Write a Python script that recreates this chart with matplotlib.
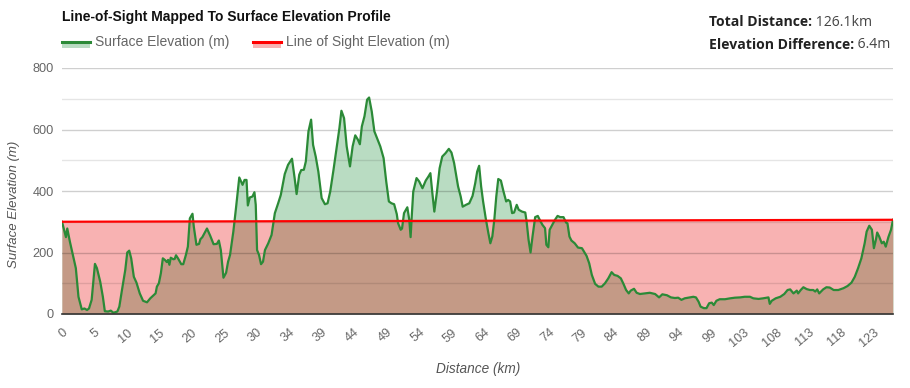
import numpy as np
import matplotlib
matplotlib.use("Agg")
import matplotlib.pyplot as plt
from matplotlib.patches import Rectangle
from matplotlib.lines import Line2D

# ---------------- data ----------------
distance_km = [0, 0.6, 0.8, 1.2, 1.7, 2.1, 2.5, 3.0, 3.4, 3.8, 4.1, 4.5, 5.0, 5.3, 5.8, 6.2, 6.5, 7.0, 7.4, 7.8,
               8.4, 8.7, 9.1, 9.6, 9.9, 10.2, 10.5, 10.9, 11.3, 11.8, 12.3, 12.9, 13.4, 13.9, 14.2, 14.4, 14.7,
               15.0, 15.3, 15.6, 15.9, 16.1, 16.3, 16.5, 16.9, 17.1, 17.3, 17.6, 18.1, 18.4, 18.8, 19.1, 19.4,
               19.8, 20.0, 20.4, 20.8, 21.0, 21.3, 22.0, 22.5, 23.0, 23.5, 23.8, 24.1, 24.5, 24.9, 25.2, 25.5,
               26.0, 26.4, 26.9, 27.4, 27.7, 28.0, 28.2, 28.5, 28.9, 29.2, 29.4, 29.6, 29.9, 30.2, 30.5, 30.8,
               31.3, 31.8, 32.3, 32.8, 33.2, 33.8, 34.3, 34.9, 35.3, 35.6, 36.0, 36.3, 36.7, 37.0, 37.4, 37.8,
               38.1, 38.5, 38.9, 39.4, 39.9, 40.3, 40.7, 41.2, 41.7, 42.1, 42.4, 42.8, 43.2, 43.7, 44.1, 44.5,
               44.9, 45.2, 45.5, 45.9, 46.3, 46.6, 47.0, 47.4, 47.8, 48.3, 48.8, 49.2, 49.6, 50.0, 50.4, 50.8,
               51.0, 51.4, 51.6, 51.9, 52.4, 52.7, 52.9, 53.1, 53.3, 53.8, 54.2, 54.7, 55.2, 55.6, 55.9, 56.2,
               56.5, 56.9, 57.3, 57.7, 58.2, 58.7, 59.1, 59.5, 59.8, 60.1, 60.5, 60.8, 61.3, 61.8, 62.3, 62.7,
               63.0, 63.3, 63.6, 63.9, 64.3, 64.7, 65.0, 65.3, 65.6, 65.9, 66.2, 66.6, 67.0, 67.4, 67.7, 68.0,
               68.3, 68.6, 69.0, 69.3, 69.8, 70.3, 70.5, 70.8, 71.1, 71.4, 71.8, 72.2, 72.5, 72.9, 73.3, 73.5,
               73.8, 74.0, 74.4, 74.8, 75.2, 75.6, 76.1, 76.5, 76.7, 77.0, 77.3, 77.8, 78.3, 78.9, 79.2, 79.6,
               80.0, 80.4, 80.9, 81.4, 81.9, 82.4, 82.9, 83.4, 83.8, 84.3, 84.8, 85.2, 85.6, 86.0, 86.3, 86.8,
               87.2, 87.7, 88.5, 89.2, 90.0, 90.6, 91.1, 91.8, 92.4, 93.0, 93.5, 94.0, 94.5, 95.3, 95.8, 96.2,
               96.6, 96.9, 97.4, 97.8, 98.2, 98.6, 98.9, 99.3, 99.8, 100.6, 101.4, 102.1, 102.9, 103.6, 104.4,
               104.9, 105.7, 106.4, 107.2, 107.4, 107.7, 108.3, 109.0, 109.6, 110.1, 110.5, 111.0, 111.5, 111.7,
               112.1, 112.5, 113.0, 113.5, 114.0, 114.3, 114.6, 114.9, 115.5, 116.0, 116.5, 117.1, 117.8, 118.6,
               119.2, 119.8, 120.3, 120.8, 121.3, 121.8, 122.1, 122.5, 122.9, 123.2, 123.5, 123.7, 124.0, 124.4,
               124.7, 125.0, 125.4, 125.8, 126.1]
surface_m = [300, 250, 278, 235, 187, 149, 56, 15, 18, 13, 18, 46, 163, 149, 105, 56, 9, 8, 11, 4,
             8, 24, 78, 143, 200, 206, 181, 121, 102, 67, 43, 38, 51, 61, 67, 89, 100,
             132, 181, 176, 169, 176, 160, 183, 178, 179, 191, 181, 162, 162, 192, 219, 311,
             326, 284, 225, 228, 243, 250, 278, 254, 227, 228, 239, 208, 118, 134, 170, 192,
             268, 344, 444, 420, 436, 436, 353, 379, 382, 396, 355, 208, 192, 162, 170, 208,
             230, 257, 328, 360, 387, 455, 485, 505, 442, 390, 453, 468, 469, 496, 594, 632,
             550, 512, 463, 377, 357, 360, 398, 469, 545, 605, 661, 637, 545, 480, 545, 581,
             567, 552, 610, 643, 697, 704, 659, 594, 572, 545, 507, 431, 366, 360, 357, 325,
             295, 274, 278, 328, 347, 306, 250, 328, 398, 442, 431, 409, 434, 447, 458, 393,
             333, 398, 474, 512, 523, 537, 525, 491, 453, 415, 382, 349, 355, 360, 384, 425,
             463, 482, 415, 366, 311, 263, 230, 252, 306, 382, 439, 434, 398, 366, 371, 366,
             328, 330, 355, 339, 333, 330, 301, 241, 200, 252, 315, 319, 306, 290, 279, 225,
             217, 274, 290, 306, 319, 315, 315, 297, 295, 252, 239, 230, 216, 214, 203, 189,
             165, 127, 98, 89, 89, 100, 116, 136, 127, 124, 116, 98, 78, 67, 76, 82,
             69, 65, 67, 69, 65, 54, 64, 61, 54, 52, 53, 46, 51, 54, 56, 54,
             40, 24, 19, 19, 35, 37, 29, 43, 48, 48, 51, 53, 54, 56, 56,
             51, 49, 51, 54, 33, 43, 51, 56, 65, 78, 80, 67, 76, 67,
             78, 87, 81, 78, 78, 73, 80, 67, 80, 87, 86, 78, 78, 84,
             91, 102, 121, 149, 181, 230, 268, 287, 274, 214, 241, 265, 252, 230,
             235, 219, 250, 274, 306.4]
los_distance_km = [0, 126.1]
los_m = [300.0, 306.4]

tick_labels = ["0", "5", "10", "15", "20", "25", "30", "34", "39", "44", "49", "54", "59", "64",
               "69", "74", "79", "84", "89", "94", "99", "103", "108", "113", "118", "123"]
label_step_km = 126.1 / 256 * 10  # labels shown every 10th sample of 257

y_ticks = [0, 200, 400, 600, 800]

# ---------------- figure ----------------
W, H = 910, 388
fig = plt.figure(figsize=(W / 100, H / 100), dpi=100)
L, R, T, B = 62, 893, 68, 314
ax = fig.add_axes([L / W, 1 - B / H, (R - L) / W, (B - T) / H])

d = np.array(distance_km)
e = np.array(surface_m)

PINK = "#f8b2b2"
GREEN_FILL = "#b9dcc2"
BROWN = "#c49a86"
GREEN_LINE = "#2b8a37"
RED = "#ff0000"

pink = ax.fill_between(los_distance_km, 0, los_m, color=PINK, lw=0, zorder=1)
ax.fill_between(d, 0, e, color=GREEN_FILL, lw=0, zorder=2)
brown = ax.fill_between(d, 0, e, color=BROWN, lw=0, zorder=3)
brown.set_clip_path(pink.get_paths()[0], ax.transData)

ax.plot(d, e, color=GREEN_LINE, lw=1.6, zorder=5, solid_joinstyle="round")
ax.plot(los_distance_km, los_m, color=RED, lw=1.6, zorder=6)

# grid (semi-transparent so it shows through the fills)
for gv in range(100, 900, 100):
    a = 0.19 if gv % 200 == 0 else 0.10
    ax.axhline(gv, color="#000000", alpha=a, lw=1.0, zorder=4)

ax.set_xlim(0, 126.1)
ax.set_ylim(0, 800)
for s in ("top", "right", "left"):
    ax.spines[s].set_visible(False)
ax.spines["bottom"].set_color("#333333")
ax.spines["bottom"].set_linewidth(1.2)
ax.spines["bottom"].set_zorder(7)

ax.set_yticks(y_ticks)
ax.set_yticklabels([str(v) for v in y_ticks], fontsize=9.2, color="#666666", family="Liberation Sans")
ax.tick_params(axis="y", length=0, pad=6)

xt = [i * label_step_km for i in range(len(tick_labels))]
ax.set_xticks(xt)
ax.set_xticklabels(tick_labels, rotation=40, ha="right", va="top", rotation_mode="anchor",
                   fontsize=9.2, color="#666666", family="Liberation Sans")
ax.tick_params(axis="x", length=0, pad=9)


def fx(x):
    return x / W


def fy(y):
    return 1 - y / H


fig.text(fx(14), fy(204), "Surface Elevation (m)", rotation=90, ha="center", va="center",
         fontsize=9.5, style="italic", color="#555555", family="Liberation Sans")
fig.text(fx(478), fy(369), "Distance (km)", ha="center", va="center",
         fontsize=9.8, style="italic", color="#555555", family="Liberation Sans")

# title
fig.text(fx(62), fy(17), "Line-of-Sight Mapped To Surface Elevation Profile", ha="left", va="center",
         fontsize=10, fontweight="bold", color="#111111", family="Liberation Sans")

# legend
def legend_item(x0, fill, line, label):
    fig.patches.append(Rectangle((fx(x0), fy(48)), 28 / W, 7 / H, transform=fig.transFigure,
                                 facecolor=fill, edgecolor="none"))
    fig.lines.append(Line2D([fx(x0), fx(x0 + 28)], [fy(41.5), fy(41.5)], transform=fig.transFigure,
                            color=line, lw=2.2))
    fig.text(fx(x0 + 33), fy(42), label, ha="left", va="center", fontsize=10,
             color="#666666", family="Liberation Sans")

legend_item(62, GREEN_FILL, GREEN_LINE, "Surface Elevation (m)")
legend_item(253, PINK, RED, "Line of Sight Elevation (m)")

# info text
fig.canvas.draw()
renderer = fig.canvas.get_renderer()
for y, bold, reg in ((22, "Total Distance:", " 126.1km"), (45, "Elevation Difference:", " 6.4m")):
    t = fig.text(fx(709), fy(y), bold, ha="left", va="center", fontsize=10.1, fontweight="bold",
                 color="#222222", family="Open Sans")
    bb = t.get_window_extent(renderer)
    fig.text(bb.x1 / W, fy(y), reg, ha="left", va="center", fontsize=10.1,
             color="#444444", family="Open Sans")

fig.savefig("out.png", dpi=100)
